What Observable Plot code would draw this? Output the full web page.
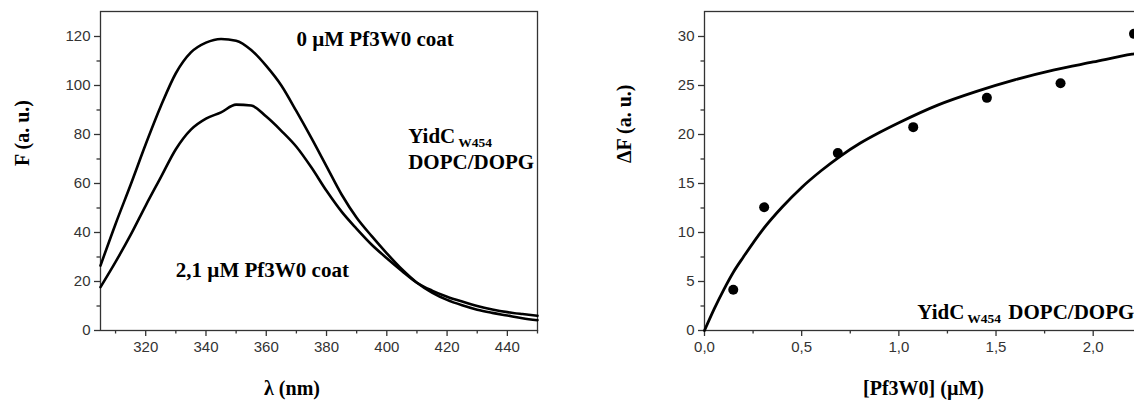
<!DOCTYPE html>
<html><head><meta charset="utf-8">
<script src="https://cdn.jsdelivr.net/npm/d3@7"></script>
<script src="https://cdn.jsdelivr.net/npm/@observablehq/plot@0.6"></script>
<style>
html,body{margin:0;padding:0;background:#fff;overflow:hidden;width:1134px;height:401px}
#wrap{position:relative;width:1134px;height:401px;overflow:hidden;background:#fff}
#left,#right{position:absolute;top:0}
#left{left:0}
#right{left:580px}
</style></head><body><div id="wrap"><div id="left"></div><div id="right"></div></div>
<script>
// ---- Left panel: emission spectra ----
const wavelength = [305,310,315,320,325,330,335,340,345,350,355,360,365,370,375,380,385,390,395,400,405,410,415,420,425,430,435,440,445,450];
const f0uM  = [26.5,43.5,59.5,76,91.5,105,113.5,117.5,119,118.3,114.5,108,100,89.5,78.5,67,55.5,46,38.5,31.5,25,19.5,15.5,12.5,10.3,8.5,7.2,6.1,5,4.2];
const f21uM = [17.7,28,39,51,62.5,74,82,86.5,89,92.2,91.8,87.3,81.5,75,66.5,57,48.5,41.5,35,29.5,24.3,19.5,16.3,13.8,11.8,10,8.6,7.5,6.7,6.0];
const lambdaTicks = [320,340,360,380,400,420,440];
const lambdaMinor = [310,330,350,370,390,410,430,450];
const fTicks = [0,20,40,60,80,100,120];
const fMinor = [10,30,50,70,90,110];

// ---- Right panel: titration ----
const concPf3W0 = [0.148,0.307,0.686,1.074,1.453,1.832,2.21];
const deltaF    = [4.15,12.58,18.1,20.75,23.74,25.23,30.27];
const fitConc   = [0,0.05,0.1,0.15,0.2,0.3,0.4,0.5,0.6,0.7,0.8,0.9,1.0,1.2,1.4,1.6,1.8,2.0,2.2,2.3];
const fitDeltaF = [0,2.2,4.2,6.0,7.5,10.3,12.6,14.6,16.3,17.8,19.1,20.2,21.2,23.0,24.4,25.6,26.6,27.4,28.2,28.5];
const concTicks = [0,0.5,1.0,1.5,2.0];
const concMinor = [0.25,0.75,1.25,1.75,2.25];
const dfTicks = [0,5,10,15,20,25,30];
const dfMinor = [2.5,7.5,12.5,17.5,22.5,27.5];

const serif = "'Liberation Serif','Times New Roman',serif";
const sans = "'Liberation Sans',Arial,sans-serif";
const axisCol = "#333";
const tickStyle = {stroke: axisCol, strokeWidth: 1.3, color: axisCol, fontSize: 15, fontFamily: sans, label: null};
const annot = {fontFamily: serif, fontWeight: "bold", fontSize: 21, fill: "black", textAnchor: "start", lineAnchor: "bottom"};
const axTitle = {fontFamily: serif, fontWeight: "bold", fontSize: 20, fill: "black"};
const comma = d => d.toFixed(1).replace(".", ",");

const spectra = wavelength.map((w, i) => ({w, a: f0uM[i], b: f21uM[i]}));

const left = Plot.plot({
  width: 580, height: 401,
  marginLeft: 100, marginRight: 43, marginTop: 11, marginBottom: 71,
  style: {fontFamily: sans, background: "white", maxWidth: "none", color: axisCol},
  x: {domain: [305, 450]},
  y: {domain: [0, 130.2]},
  marks: [
    Plot.axisX({...tickStyle, ticks: lambdaTicks, tickSize: 6, tickPadding: 5, tickFormat: d3.format("d")}),
    Plot.axisX({...tickStyle, ticks: lambdaMinor, tickSize: 3.5, tickFormat: () => ""}),
    Plot.axisY({...tickStyle, ticks: fTicks, tickSize: 6, tickPadding: 4, tickFormat: d3.format("d")}),
    Plot.axisY({...tickStyle, ticks: fMinor, tickSize: 3.5, tickFormat: () => ""}),
    Plot.frame({stroke: axisCol, strokeWidth: 1.3}),
    Plot.line(spectra, {x: "w", y: "a", stroke: "black", strokeWidth: 2.6, curve: "monotone-x"}),
    Plot.line(spectra, {x: "w", y: "b", stroke: "black", strokeWidth: 2.6, curve: "monotone-x"}),
    Plot.text(["0 µM Pf3W0 coat"], {...annot, x: 370, y: 116.3}),
    Plot.text(["2,1 µM Pf3W0 coat"], {...annot, x: 330, y: 21.7}),
    Plot.text(["YidC"], {...annot, x: 407.1, y: 76.5}),
    Plot.text(["W454"], {...annot, fontSize: 13.5, x: 407.1, y: 76.5, dx: 50, dy: 3.5}),
    Plot.text(["DOPC/DOPG"], {...annot, x: 407.1, y: 66.1}),
    Plot.text(["λ (nm)"], {...axTitle, frameAnchor: "bottom", lineAnchor: "bottom", dx: -27, dy: 64}),
    Plot.text(["F (a. u.)"], {...axTitle, frameAnchor: "left", lineAnchor: "middle", rotate: -90, dx: -78, dy: -5})
  ]
});
document.getElementById("left").appendChild(left);

const points = concPf3W0.map((c, i) => ({c, d: deltaF[i]}));
const fit = fitConc.map((c, i) => ({c, d: fitDeltaF[i]}));

const right = Plot.plot({
  width: 571, height: 401,
  marginLeft: 124, marginRight: 0, marginTop: 11, marginBottom: 71,
  style: {fontFamily: sans, background: "white", maxWidth: "none", color: axisCol},
  x: {domain: [0, 2.3]},
  y: {domain: [0, 32.55]},
  marks: [
    Plot.axisX({...tickStyle, ticks: concTicks, tickSize: 6, tickPadding: 5, tickFormat: comma}),
    Plot.axisX({...tickStyle, ticks: concMinor, tickSize: 3.5, tickFormat: () => ""}),
    Plot.axisY({...tickStyle, ticks: dfTicks, tickSize: 6, tickPadding: 4, tickFormat: d3.format("d")}),
    Plot.axisY({...tickStyle, ticks: dfMinor, tickSize: 3.5, tickFormat: () => ""}),
    Plot.frame({stroke: axisCol, strokeWidth: 1.3}),
    Plot.line(fit, {x: "c", y: "d", stroke: "black", strokeWidth: 2.8, curve: "monotone-x"}),
    Plot.dot(points, {x: "c", y: "d", r: 5, fill: "black", stroke: "none"}),
    Plot.text(["YidC"], {...annot, x: 1.095, y: 1.19}),
    Plot.text(["W454"], {...annot, fontSize: 13.5, x: 1.095, y: 1.19, dx: 50, dy: 4}),
    Plot.text(["DOPC/DOPG"], {...annot, x: 1.095, y: 1.19, dx: 91}),
    Plot.text(["[Pf3W0] (µM)"], {...axTitle, frameAnchor: "bottom", lineAnchor: "bottom", dx: -4.5, dy: 64}),
    Plot.text(["ΔF (a. u.)"], {...axTitle, frameAnchor: "left", lineAnchor: "middle", rotate: -90, dx: -80, dy: -8})
  ]
});
document.getElementById("right").appendChild(right);
</script>
</body></html>
